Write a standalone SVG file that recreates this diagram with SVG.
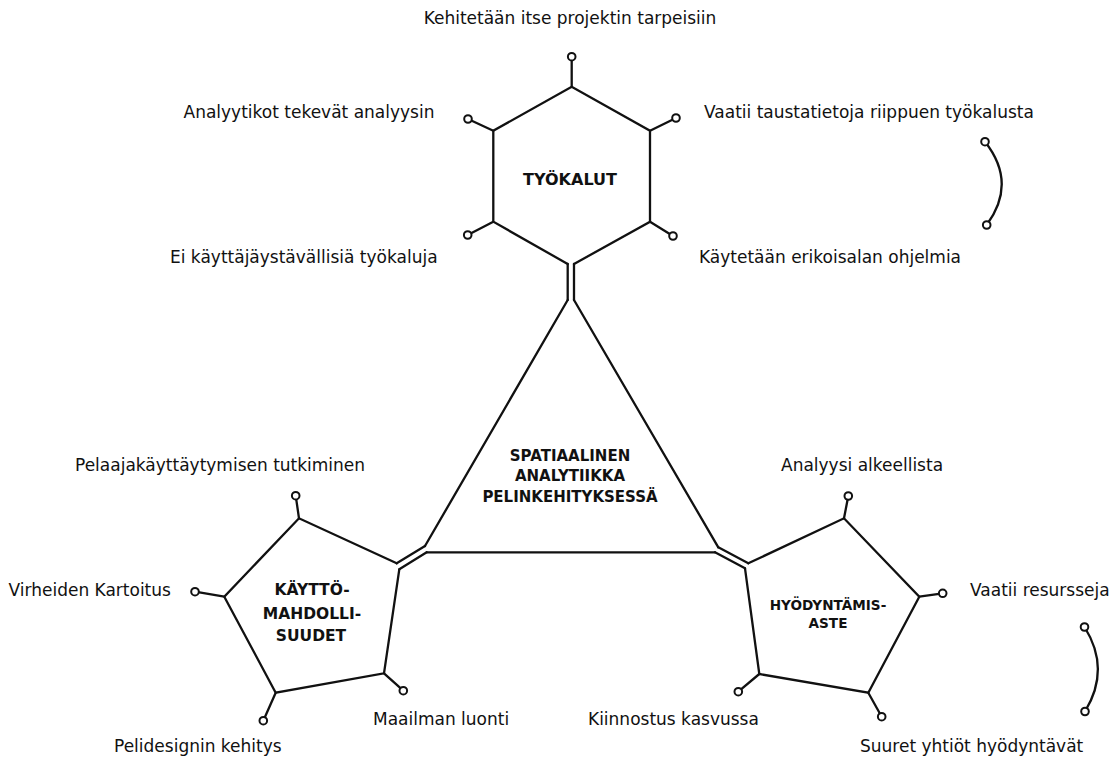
<svg xmlns="http://www.w3.org/2000/svg" width="1119" height="761" viewBox="0 0 1119 761">
<style>
.ln{fill:none;stroke:#111;stroke-width:2.3;stroke-linecap:round;stroke-linejoin:miter}
.pin{fill:#fff;stroke:#111;stroke-width:2}
.lbl{font-family:"DejaVu Sans",sans-serif;font-size:17px;fill:#111}
.ttl{font-family:"DejaVu Sans",sans-serif;font-weight:bold;fill:#111;text-anchor:middle}
</style>
<rect width="1119" height="761" fill="#fff"/>
<g id="connectors">
<path class="ln" d="M567.7,264 V300 M574,264 V300 M425,546 L396.7,563.3 M426.7,552.3 L399.3,569.3 M718.3,547.3 L748.3,563.3 M715,552.3 L745,568.3"/>
</g>
<g id="center">
<path class="ln" d="M425,546 L567.7,300 M574,300 L718.3,547.3 M426.7,552.3 H715"/>
<text class="ttl" font-size="15" x="570" y="460.5">SPATIAALINEN</text>
<text class="ttl" font-size="15" x="570" y="481">ANALYTIIKKA</text>
<text class="ttl" font-size="15" x="570" y="501.5">PELINKEHITYKSESSÄ</text>
</g>
<g id="tyokalut">
<path class="ln" d="M493.3,130.7 L468,119 M571.7,86.7 V56.7 M650,130.7 L676,118 M493.3,221.7 L467.7,235 M650,221.7 L673,236"/>
<path class="ln" d="M567.7,264 L493.3,221.7 V130.7 L571.7,86.7 L650,130.7 V221.7 L574,264"/>
<circle class="pin" cx="571.7" cy="56.7" r="3.8"/>
<circle class="pin" cx="468" cy="119" r="3.8"/>
<circle class="pin" cx="676" cy="118" r="3.8"/>
<circle class="pin" cx="467.7" cy="235" r="3.8"/>
<circle class="pin" cx="673" cy="236" r="3.8"/>
<text class="ttl" font-size="16" x="570" y="185">TYÖKALUT</text>
</g>
<g id="kayttomahdollisuudet">
<path class="ln" d="M299,518.3 L295.7,495.7 M224.3,596.7 L195,591.7 M275.7,692.7 L263.3,720.7 M384,673.3 L403.3,690.7"/>
<path class="ln" d="M396.7,563.3 L299,518.3 L224.3,596.7 L275.7,692.7 L384,673.3 L399.3,569.3"/>
<circle class="pin" cx="295.7" cy="495.7" r="3.8"/>
<circle class="pin" cx="195" cy="591.7" r="3.8"/>
<circle class="pin" cx="263.3" cy="720.7" r="3.8"/>
<circle class="pin" cx="403.3" cy="690.7" r="3.8"/>
<text class="ttl" font-size="15.5" x="312" y="595">KÄYTTÖ-</text>
<text class="ttl" font-size="15.5" x="312" y="618.5">MAHDOLLI-</text>
<text class="ttl" font-size="15.5" x="311" y="641">SUUDET</text>
</g>
<g id="hyodyntamisaste">
<path class="ln" d="M844,518.3 L848.3,496 M919.3,596.7 L942.7,593.3 M868.3,692.7 L881.7,716.7 M759.3,674 L738.3,691.7"/>
<path class="ln" d="M748.3,563.3 L844,518.3 L919.3,596.7 L868.3,692.7 L759.3,674 L745,568.3"/>
<circle class="pin" cx="848.3" cy="496" r="3.8"/>
<circle class="pin" cx="942.7" cy="593.3" r="3.8"/>
<circle class="pin" cx="881.7" cy="716.7" r="3.8"/>
<circle class="pin" cx="738.3" cy="691.7" r="3.8"/>
<text class="ttl" font-size="13.6" x="828" y="610">HYÖDYNTÄMIS-</text>
<text class="ttl" font-size="13.6" x="828" y="628">ASTE</text>
</g>
<g id="brackets">
<path class="ln" d="M985,141.7 Q1017.6,183 986.7,225"/>
<circle class="pin" cx="985" cy="141.7" r="3.8"/>
<circle class="pin" cx="986.7" cy="225" r="3.8"/>
<path class="ln" d="M1084.5,627 Q1111,669 1085,711.5"/>
<circle class="pin" cx="1084.5" cy="627" r="3.8"/>
<circle class="pin" cx="1085" cy="711.5" r="3.8"/>
</g>
<g id="labels">
<text class="lbl" x="570" y="24" text-anchor="middle">Kehitetään itse projektin tarpeisiin</text>
<text class="lbl" x="183.5" y="118">Analyytikot tekevät analyysin</text>
<text class="lbl" x="704" y="118">Vaatii taustatietoja riippuen työkalusta</text>
<text class="lbl" x="170" y="263">Ei käyttäjäystävällisiä työkaluja</text>
<text class="lbl" x="699" y="263">Käytetään erikoisalan ohjelmia</text>
<text class="lbl" x="75" y="471">Pelaajakäyttäytymisen tutkiminen</text>
<text class="lbl" x="781" y="471">Analyysi alkeellista</text>
<text class="lbl" x="8.5" y="596">Virheiden Kartoitus</text>
<text class="lbl" x="970" y="596">Vaatii resursseja</text>
<text class="lbl" x="373" y="725">Maailman luonti</text>
<text class="lbl" x="588" y="725">Kiinnostus kasvussa</text>
<text class="lbl" x="114" y="752">Pelidesignin kehitys</text>
<text class="lbl" x="860" y="752">Suuret yhtiöt hyödyntävät</text>
</g>
</svg>
